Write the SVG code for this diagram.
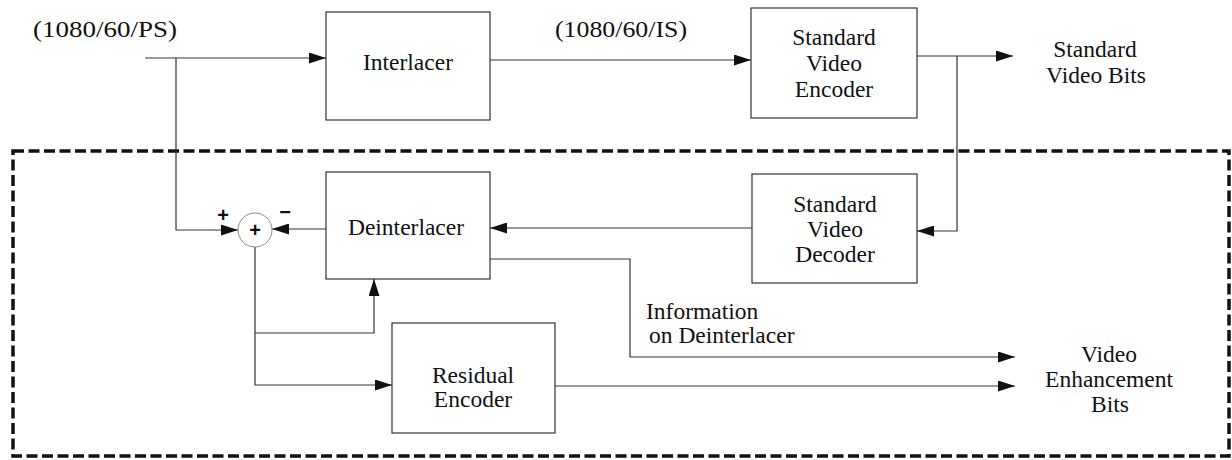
<svg xmlns="http://www.w3.org/2000/svg" width="1232" height="460" viewBox="0 0 1232 460">
  <defs>
    <marker id="arr" viewBox="0 0 17 11" refX="17" refY="5.5" markerWidth="17" markerHeight="11" markerUnits="userSpaceOnUse" orient="auto">
      <path d="M0,0 L17,5.5 L0,11 Z" fill="#111"/>
    </marker>
    <style>
      .box { fill: #fff; stroke: #333; stroke-width: 1.2; }
      .lbl { font-family: "Liberation Serif", "Times New Roman", serif; font-size: 23.5px; fill: #111; text-anchor: middle; }
      .lft { text-anchor: start; }
      .wire { fill: none; stroke: #333; stroke-width: 1.2; }
      .arrow { marker-end: url(#arr); }
      .enh { fill: none; stroke: #111; stroke-width: 3.5; stroke-dasharray: 11 4.5; }
      .sign { font-family: "Liberation Sans", Arial, sans-serif; font-weight: bold; font-size: 20px; fill: #111; text-anchor: middle; }
    </style>
  </defs>
  <rect width="1232" height="460" fill="#fff"/>

  <!-- enhancement-layer boundary -->
  <rect class="enh" x="13" y="151" width="1216" height="305"/>

  <!-- free labels -->
  <text class="lbl" x="105" y="37" textLength="144" lengthAdjust="spacingAndGlyphs">(1080/60/PS)</text>
  <text class="lbl" x="621" y="37" textLength="132" lengthAdjust="spacingAndGlyphs">(1080/60/IS)</text>
  <text class="lbl" x="1095" y="57">Standard</text>
  <text class="lbl" x="1096" y="83">Video Bits</text>
  <text class="lbl lft" x="646" y="319">Information</text>
  <text class="lbl lft" x="649" y="343">on Deinterlacer</text>
  <text class="lbl" x="1109" y="362">Video</text>
  <text class="lbl" x="1109" y="387">Enhancement</text>
  <text class="lbl" x="1110" y="412">Bits</text>

  <!-- connectors -->
  <g id="connectors">
    <path class="wire arrow" d="M145,58 H326"/>
    <path class="wire arrow" d="M176,58 V230 H238"/>
    <path class="wire arrow" d="M490,60 H751"/>
    <path class="wire arrow" d="M917,56 H1013"/>
    <path class="wire arrow" d="M957,56 V231 H917"/>
    <path class="wire arrow" d="M752,228 H490"/>
    <path class="wire arrow" d="M326,229 H272"/>
    <path class="wire arrow" d="M255,247 V385 H392"/>
    <path class="wire arrow" d="M255,333 H374 V279"/>
    <path class="wire arrow" d="M490,259 H630 V357 H1015"/>
    <path class="wire arrow" d="M555,386 H1015"/>
  </g>

  <g id="interlacer">
    <rect class="box" x="326" y="12" width="164" height="108"/>
    <text class="lbl" x="408" y="70">Interlacer</text>
  </g>

  <g id="encoder">
    <rect class="box" x="751" y="8" width="166" height="110"/>
    <text class="lbl" x="834" y="45">Standard</text>
    <text class="lbl" x="834" y="71">Video</text>
    <text class="lbl" x="834" y="97">Encoder</text>
  </g>

  <g id="decoder">
    <rect class="box" x="752" y="174" width="165" height="109"/>
    <text class="lbl" x="835" y="212">Standard</text>
    <text class="lbl" x="835" y="237">Video</text>
    <text class="lbl" x="835" y="262">Decoder</text>
  </g>

  <g id="deinterlacer">
    <rect class="box" x="326" y="172" width="164" height="107"/>
    <text class="lbl" x="406" y="235">Deinterlacer</text>
  </g>

  <g id="residual">
    <rect class="box" x="392" y="323" width="163" height="110"/>
    <text class="lbl" x="473" y="383">Residual</text>
    <text class="lbl" x="473" y="407">Encoder</text>
  </g>

  <g id="sum">
    <circle cx="255" cy="230" r="17" fill="#fff" stroke="#888" stroke-width="1"/>
    <text class="sign" x="255" y="237">+</text>
    <text class="sign" x="223" y="222">+</text>
    <text class="sign" x="285" y="219">−</text>
  </g>
</svg>
